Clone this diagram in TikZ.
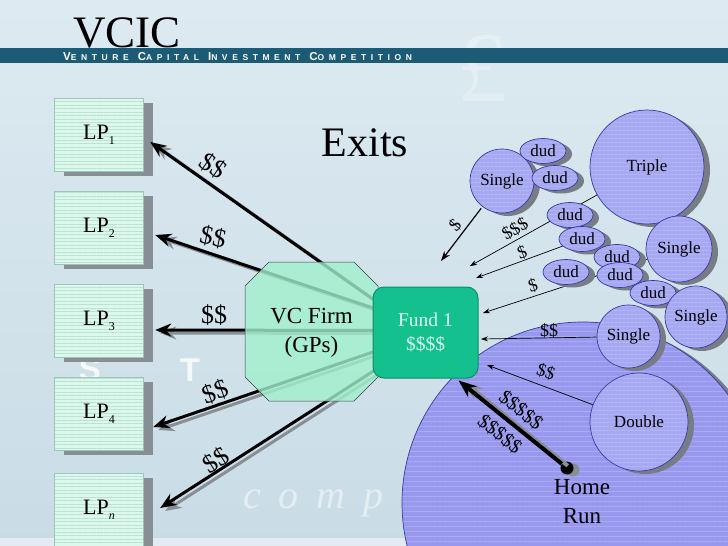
\documentclass[tikz,border=0pt]{standalone}
\usepackage{fontspec}
\setmainfont{Liberation Serif}
\newfontfamily\bannerfont[LetterSpace=54]{Liberation Sans}
\newfontfamily\wmsans{Liberation Sans}
\usetikzlibrary{arrows.meta,shadows,patterns.meta,calc,shapes.geometric}
\definecolor{bgtop}{HTML}{DDEAF1}
\definecolor{bgbot}{HTML}{C9DCE6}
\definecolor{banner}{HTML}{1B5B76}
\definecolor{lpfill}{HTML}{DAF8EC}
\definecolor{lpline}{HTML}{BCE0D2}
\definecolor{lpedge}{HTML}{9CC7B8}
\definecolor{shade}{HTML}{878E94}
\definecolor{octfill}{HTML}{A0F0CC}
\definecolor{fundfill}{HTML}{14C08E}
\definecolor{fundedge}{HTML}{0C8F68}
\definecolor{fundtext}{HTML}{DDFFF2}
\definecolor{ballfill}{HTML}{A6A8F2}
\definecolor{ballline}{HTML}{BCBEF8}
\definecolor{balledge}{HTML}{3A3AA6}
\definecolor{bigfill}{HTML}{9798EE}
\definecolor{bigline}{HTML}{ABACF4}
\definecolor{ballshadow}{HTML}{787D85}
\newcommand\lpsub[1]{\raisebox{-5pt}{\fontsize{12}{12}\selectfont #1}}
\newcommand\bancap[2]{{\fontsize{11.5}{12}\selectfont #1}{\fontsize{8.5}{12}\selectfont #2}}
\pgfdeclarelayer{back}
\pgfdeclarelayer{mid}
\pgfsetlayers{back,mid,main}
\begin{document}
\begin{tikzpicture}[x=1pt,y=-1pt,
  lpbox/.style={rectangle, draw=lpedge, line width=0.4pt,
    drop shadow={shadow xshift=9pt, shadow yshift=-4pt, fill=shade, opacity=1},
    preaction={fill=lpfill}, pattern={Lines[angle=0,distance=3.5pt,line width=0.45pt]}, pattern color=lpline,
    minimum width=89pt, minimum height=73pt, inner sep=0pt,
    font=\fontsize{22}{24}\selectfont},
  ball/.style={circle, draw=balledge, line width=0.7pt,
    drop shadow={shadow xshift=6pt, shadow yshift=-3pt, fill=ballshadow, opacity=1},
    preaction={fill=ballfill}, pattern={Lines[angle=0,distance=4pt,line width=0.8pt]}, pattern color=ballline,
    inner sep=0pt, font=\fontsize{17}{17}\selectfont},
  dud/.style={ball, ellipse, minimum width=46pt, minimum height=25pt},
  bigball/.style={circle, draw=balledge, line width=0.7pt,
    drop shadow={shadow xshift=7pt, shadow yshift=-3pt, fill=ballshadow, opacity=1},
    preaction={fill=bigfill}, pattern={Lines[angle=0,distance=5pt,line width=0.9pt]}, pattern color=bigline,
    minimum size=362pt, inner sep=0pt},
  bigarrow/.style={line width=3pt, -{Stealth[length=16pt,width=13pt]}},
  bigshadow/.style={bigarrow, draw=shade, transform canvas={shift={(5pt,-3pt)}}},
  thinarrow/.style={line width=0.7pt, -{Stealth[length=7pt,width=5pt]}},
  biglabel/.style={inner sep=0pt, font=\fontsize{26}{26}\selectfont},
  smalllabel/.style={inner sep=0pt, font=\fontsize{18}{18}\selectfont},
  wm/.style={inner sep=0pt, text=white},
]
\useasboundingbox (0,0) rectangle (728,546);
\begin{pgfonlayer}{back}
  \shade[top color=bgtop, bottom color=bgbot] (0,0) rectangle (728,546);
  \fill[white, opacity=0.45] (0,538) rectangle (728,546);
  % watermarks
  \node[wm, opacity=0.28, font=\fontsize{100}{100}\selectfont] (pound) at (482,68) {£};
  \node[wm, opacity=0.8, font=\wmsans\bfseries\fontsize{33}{33}\selectfont] (wmS) at (90,369) {S};
  \node[wm, opacity=0.8, font=\wmsans\bfseries\fontsize{33}{33}\selectfont] (wmT) at (190,370) {T};
  \node[wm, opacity=0.5, font=\itshape\fontsize{40}{40}\selectfont, anchor=base west] (wmcomp) at (243,508) {c\hskip18pt o\hskip18pt m\hskip18pt p};
  % banner
  \fill[banner] (0,48) rectangle (728,63);
  \node[anchor=base west, inner sep=0pt, font=\fontsize{45}{45}\selectfont] (vcic) at (73,47) {VCIC};
  \node[anchor=west, inner sep=0pt, text=white] (subtitle) at (63,57)
    {\bannerfont\bfseries\bancap{V}{ENTURE}\hspace{9pt}\bancap{C}{APITAL}\hspace{9pt}\bancap{I}{NVESTMENT}\hspace{9pt}\bancap{C}{OMPETITION}};
  % LP boxes
  \node[lpbox] (lp1) at (99,135) {LP\lpsub{1}};
  \node[lpbox] (lp2) at (99,228) {LP\lpsub{2}};
  \node[lpbox] (lp3) at (99,321) {LP\lpsub{3}};
  \node[lpbox] (lp4) at (99,414) {LP\lpsub{4}};
  \node[lpbox] (lpn) at (99,510) {LP\lpsub{\textit{n}}};
  % home run field
  \node[bigball] (home) at (583,503) {};
\end{pgfonlayer}

% title
\node[inner sep=0pt, font=\fontsize{42}{42}\selectfont] (exits) at (365,143) {Exits};

% balls
\node[ball, minimum size=114pt] (triple) at (647,167) {Triple};
\node[ball, minimum size=64pt] (s1) at (502,181) {Single};
\node[dud] (d1) at (543,151) {dud};
\node[dud] (d2) at (555,178) {dud};
\node[dud] (d3) at (570,215) {dud};
\node[dud] (d4) at (582,239) {dud};
\node[ball, minimum size=66pt] (sr1) at (679,249) {Single};
\node[dud] (d5) at (617,257) {dud};
\node[dud] (d6) at (566,272) {dud};
\node[dud] (d7) at (620,275) {dud};
\node[dud] (d8) at (653,293) {dud};
\node[ball, minimum size=62pt] (sr2) at (696,317) {Single};
\node[ball, minimum size=63pt] (sm) at (628.5,336.5) {Single};
\node[ball, minimum size=98pt] (double) at (639,422) {Double};

% fund and firm
\node[draw=fundedge, line width=1pt, fill=fundfill, rounded corners=11pt,
      minimum width=105pt, minimum height=91pt, inner sep=0pt, align=center,
      text=fundtext, font=\fontsize{19.5}{24}\selectfont] (fund) at (425.5,332.5) {Fund 1\\\$\$\$\$};
\node[inner sep=0pt, align=center, font=\fontsize{23}{29}\selectfont] (vc) at (311.5,333) {VC Firm\\(GPs)};

% arrow end points
\coordinate (f1) at ($(fund.west)+(5,-30)$);
\coordinate (f2) at ($(fund.west)+(5,-23)$);
\coordinate (f3) at ($(fund.west)+(5,-2)$);
\coordinate (f4) at ($(fund.west)+(5,18)$);
\coordinate (f5) at ($(fund.west)+(5,36)$);
\coordinate (t1) at ($(lp1.east)+(6.5,7)$);
\coordinate (t2) at ($(lp2.east)+(11.5,7)$);
\coordinate (t3) at ($(lp3.east)+(11.5,9)$);
\coordinate (t4) at ($(lp4.east)+(9.5,13)$);
\coordinate (t5) at ($(lpn.east)+(16.5,-2)$);
\coordinate (ea) at (441,261);
\coordinate (eb) at (470,266);
\coordinate (ec) at (476,278);
\coordinate (ed) at (483,313);
\coordinate (ee) at (481,339);
\coordinate (ef) at (487,365);
\coordinate (hrtip) at ($(fund.south east)+(-20,2)$);

\begin{pgfonlayer}{mid}
  % big arrows to LPs (behind firm)
  \foreach \a/\b in {f1/t1,f2/t2,f3/t3,f4/t4,f5/t5}{
    \draw[bigshadow] (\a) -- (\b);
  }
  \foreach \a/\b in {f1/t1,f2/t2,f3/t3,f4/t4,f5/t5}{
    \draw[bigarrow] (\a) -- (\b);
  }
  % firm octagon over the arrows
  \fill[octfill, fill opacity=0.8] (245,286) -- (269,262) -- (354,262) -- (378,286) -- (378,377) -- (354,401) -- (269,401) -- (245,377) -- cycle;
  \draw[black!75, line width=0.5pt] (245,286) -- (269,262) -- (354,262) -- (378,286) -- (378,377) -- (354,401) -- (269,401) -- (245,377) -- cycle;
  % small arrows from the balls (behind the balls)
  \draw[line width=1.2pt, -{Stealth[length=10pt,width=7pt]}, shorten <=2pt] (s1) -- (ea);
  \draw[thinarrow] (triple) -- (eb);
  \draw[thinarrow] (d4) -- (ec);
  \draw[thinarrow] (sr1) -- (ed);
  \draw[thinarrow] (sm) -- (ee);
  \draw[thinarrow] (double) -- (ef);
\end{pgfonlayer}

% labels of the big arrows
\node[biglabel, rotate=-35] (l1) at (213,166) {\$\$};
\node[biglabel, rotate=-12] (l2) at (213,237) {\$\$};
\node[biglabel] (l3) at (214,315) {\$\$};
\node[biglabel, rotate=20] (l4) at (215,392) {\$\$};
\node[biglabel, rotate=32] (l5) at (216,460) {\$\$};

% labels of the small arrows
\node[smalllabel, rotate=48] (la) at (455,225) {\$};
\node[smalllabel, rotate=31] (lb) at (515,229) {\$\$\$};
\node[smalllabel, rotate=20] (lc) at (522,252) {\$};
\node[smalllabel, rotate=17] (ld) at (533,286) {\$};
\node[smalllabel] (le) at (549,331) {\$\$};
\node[smalllabel, rotate=-18] (lf) at (546,372) {\$\$};

% home run
\node[circle, fill=black, minimum size=13pt, inner sep=0pt,
      drop shadow={shadow xshift=6pt, shadow yshift=-2pt, fill=shade, opacity=1}] (hr) at (567,468) {};
\draw[line width=4pt, draw=shade, -{Stealth[length=18pt,width=14pt]}, transform canvas={shift={(6pt,-2pt)}}] (hr) -- (hrtip);
\draw[line width=4pt, -{Stealth[length=18pt,width=14pt]}] (hr) -- (hrtip);
\node[smalllabel, font=\fontsize{20}{20}\selectfont, rotate=-39] (lh1) at (521,410) {\$\$\$\$\$};
\node[smalllabel, font=\fontsize{20}{20}\selectfont, rotate=-39] (lh2) at (500,434) {\$\$\$\$\$};
\node[inner sep=0pt, align=center, font=\fontsize{23}{29}\selectfont] (hrtext) at (582,502) {Home\\Run};
\end{tikzpicture}
\end{document}
